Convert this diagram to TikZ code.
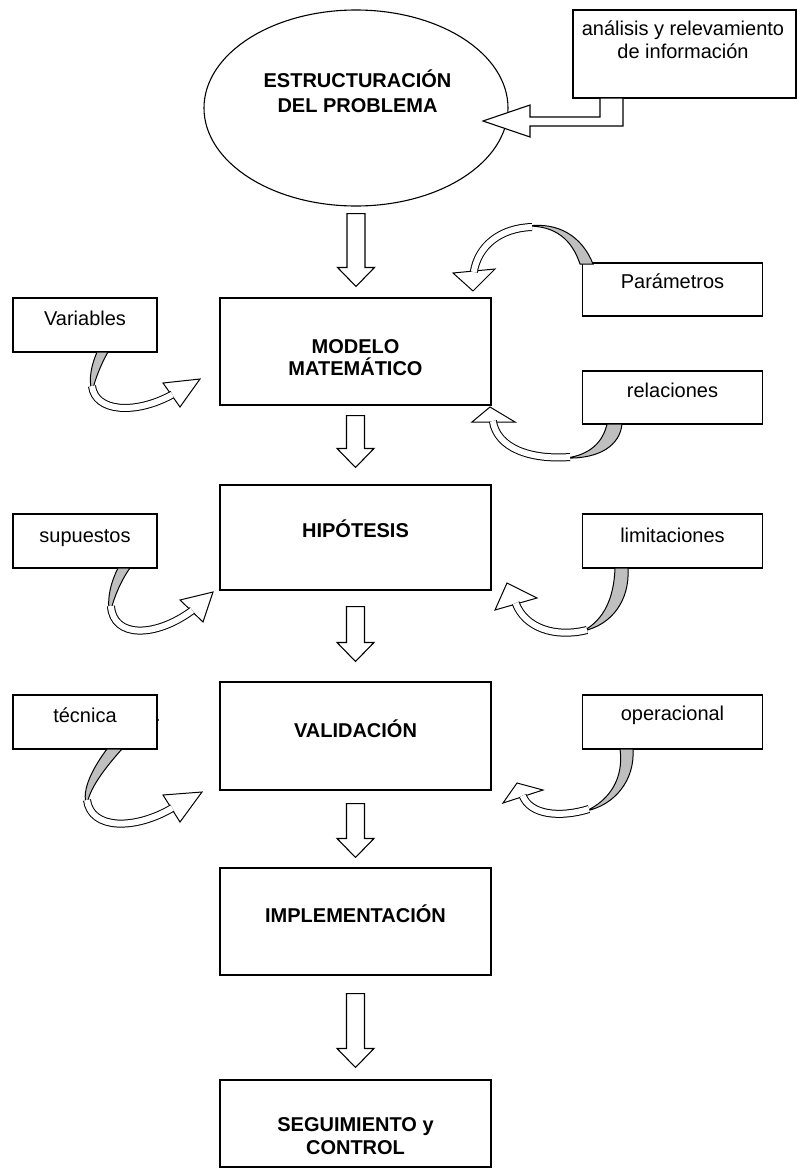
\documentclass[tikz,border=0pt]{standalone}
\usepackage{fontspec}
\setmainfont{Liberation Sans}
\usetikzlibrary{calc,shapes.geometric}

% straight block arrow pointing down, from a start point to a tip point
\newcommand\blockdown[2]{%
  \draw[blockarr] let \p1=(#1), \p2=(#2) in
    (\x1-9pt,\y1) -- (\x1+9pt,\y1) -- (\x1+9pt,\y2+19pt) -- (\x1+18.5pt,\y2+19pt)
    -- (\x1,\y2) -- (\x1-18.5pt,\y2+19pt) -- (\x1-9pt,\y2+19pt) -- cycle;}

\begin{document}
\begin{tikzpicture}[x=1pt,y=-1pt,
  every node/.style={font=\fontsize{20}{23}\selectfont},
  box/.style={draw, line width=1.1pt, fill=white, inner sep=0pt},
  lbl/.style={anchor=base, inner sep=0pt, align=center},
  bold/.style={lbl, font=\fontsize{20}{23}\selectfont\bfseries},
  blockarr/.style={draw, line width=1.1pt, fill=white, line join=miter},
  twist/.style={draw, line width=1pt, fill=black!25},
  band/.style={draw=black, line width=1pt, double=white, double distance=6pt, shorten >=-1pt},
  tiphead/.style={draw, line width=1pt, fill=white, line join=miter},
]
\useasboundingbox (0,0) rectangle (797,1170);

% ---- main column (multi-line labels are placed by their last baseline) ----
\node[draw, ellipse, line width=1.1pt, minimum width=304pt, minimum height=196pt, inner sep=0pt] (ell) at (356,108) {};
\node[bold, font=\fontsize{20}{25}\selectfont\bfseries] (t-ell) at (357.5,112) {ESTRUCTURACIÓN\\DEL PROBLEMA};

\node[box, minimum width=271pt, minimum height=107pt] (modelo) at (355.5,351.5) {};
\node[bold, font=\fontsize{20}{22}\selectfont\bfseries] (t-modelo) at (355.5,375) {MODELO\\MATEMÁTICO};

\node[box, minimum width=271pt, minimum height=105pt] (hip) at (355.5,537.5) {};
\node[bold] (t-hip) at (355.5,537) {HIPÓTESIS};

\node[box, minimum width=271pt, minimum height=108pt] (val) at (355.5,736) {};
\node[bold] (t-val) at (355.5,737) {VALIDACIÓN};

\node[box, minimum width=271pt, minimum height=107pt] (imp) at (355.5,921.5) {};
\node[bold] (t-imp) at (355.5,922) {IMPLEMENTACIÓN};

\node[box, minimum width=271pt, minimum height=87pt] (seg) at (355.5,1123.5) {};
\node[bold] (t-seg) at (355.5,1154) {SEGUIMIENTO y\\CONTROL};

% ---- side boxes ----
\node[box, minimum width=223pt, minimum height=88pt] (anal) at (684.5,54) {};
\node[lbl] (t-anal) at (683,58) {análisis y relevamiento\\de información};

\node[box, minimum width=144pt, minimum height=54pt] (variables) at (85,325) {};
\node[lbl] (t-variables) at (85,325) {Variables};

\node[box, minimum width=180pt, minimum height=53pt] (param) at (672.5,289.5) {};
\node[lbl] (t-param) at (672.5,288) {Parámetros};

\node[box, minimum width=180pt, minimum height=53pt] (rel) at (672.5,397.5) {};
\node[lbl] (t-rel) at (672.5,397) {relaciones};

\node[box, minimum width=144pt, minimum height=54pt] (sup) at (85,541) {};
\node[lbl] (t-sup) at (85,542) {supuestos};

\node[box, minimum width=180pt, minimum height=54pt] (lim) at (672.5,541) {};
\node[lbl] (t-lim) at (672.5,542) {limitaciones};

\node[box, minimum width=144pt, minimum height=54pt] (tec) at (85,722) {};
\node[lbl] (t-tec) at (85,722) {técnica};
\node[lbl, anchor=base west] (dot) at (155,721) {.};

\node[box, minimum width=180pt, minimum height=54pt] (oper) at (672.5,722) {};
\node[lbl] (t-oper) at (672.5,720) {operacional};

% ---- block arrows down the main column ----
\blockdown{$(ell.south)+(0,7)$}{$(modelo.north)+(0,-11)$}
\blockdown{$(modelo.south)+(0,10)$}{$(hip.north)+(0,-17)$}
\blockdown{$(hip.south)+(0,16)$}{$(val.north)+(0,-20)$}
\blockdown{$(val.south)+(0,13)$}{$(imp.north)+(0,-10)$}
\blockdown{$(imp.south)+(0,18)$}{$(seg.north)+(0,-12)$}

% bent block arrow from the information box into the ellipse
\draw[blockarr] (600,98) -- (600,117) -- (530,117) -- (530,105) -- (483,121)
  -- (530,137) -- (530,126) -- (623,126) -- (623,98) -- cycle;

% ---- curved ribbon arrows ----
% Variables -> modelo
\path[twist] (97,352) .. controls (92,364) and (88,378) .. (92,392) .. controls (95,380) and (100,366) .. (108,352) -- cycle;
\path[tiphead] (163,383) -- (200,379) -- (180,407) -- cycle;
\draw[band] (92,386) .. controls (95,412) and (135,415) .. (171.5,395);

% supuestos -> hipotesis
\path[twist] (118,568) .. controls (112,580) and (106,598) .. (110,614) .. controls (113,600) and (120,582) .. (130,568) -- cycle;
\path[tiphead] (180,600) -- (213,592) -- (203,622) -- cycle;
\draw[band] (111,606) .. controls (113,638) and (155,638) .. (191.5,611);

% tecnica -> validacion
\path[twist] (107,749) .. controls (95,765) and (80,790) .. (87,806) .. controls (88,790) and (105,768) .. (122,749) -- cycle;
\path[tiphead] (163,795) -- (202,792) -- (180,822) -- cycle;
\draw[band] (87,800) .. controls (91,830) and (135,830) .. (171.5,808.5);

% Parametros -> modelo (over the top)
\path[twist] (580,264) .. controls (572,240) and (556,226) .. (528,226) .. controls (558,222) and (582,236) .. (593,264) -- cycle;
\path[tiphead] (453,273) -- (473,291) -- (495,269) -- cycle;
\draw[band] (532,227) .. controls (500,228) and (478,246) .. (474,271);

% relaciones -> modelo (from below)
\path[twist] (607,424) .. controls (603,442) and (590,455) .. (566,458) .. controls (600,459) and (620,445) .. (622,424) -- cycle;
\path[tiphead] (472,422) -- (490,407) -- (515,422) -- cycle;
\draw[band] (570,457) .. controls (530,460) and (497,448) .. (493,422);

% limitaciones -> hipotesis
\path[twist] (615,568) .. controls (614,598) and (604,620) .. (583,631) .. controls (612,625) and (630,600) .. (628,568) -- cycle;
\path[tiphead] (495,610) -- (507,583) -- (537,598) -- cycle;
\draw[band] (587,630) .. controls (555,638) and (525,628) .. (516,604);

% operacional -> validacion
\path[twist] (620,749) .. controls (624,778) and (610,800) .. (586,811) .. controls (615,805) and (635,780) .. (633,749) -- cycle;
\path[tiphead] (503,803) -- (517,783) -- (543,790) -- cycle;
\draw[band] (589,809) .. controls (560,818) and (530,815) .. (523,796.5);

\end{tikzpicture}
\end{document}
